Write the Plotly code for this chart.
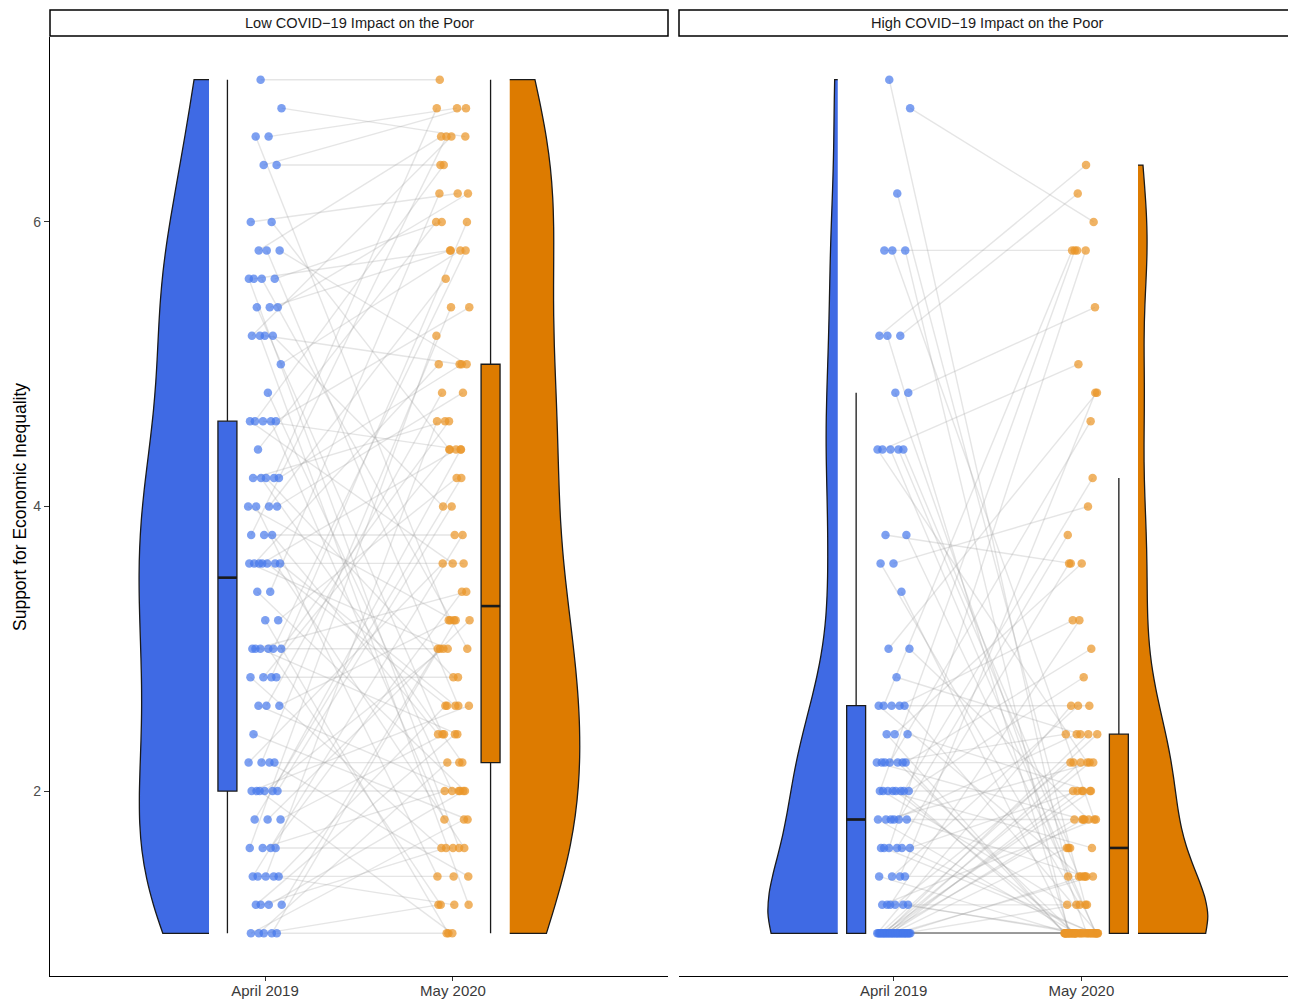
import numpy as np
import plotly.graph_objects as go

# ---------------- data ----------------
panel_titles = ["Low COVID\u221219 Impact on the Poor", "High COVID\u221219 Impact on the Poor"]
waves = ["April 2019", "May 2020"]
y_ticks = [2, 4, 6]

# paired responses (same index = same participant)
low_april = [7.0, 6.8, 6.6, 6.6, 6.4, 6.4, 6.0, 6.0, 5.8, 5.8,
             5.8, 5.6, 5.6, 5.6, 5.6, 5.4, 5.4, 5.4, 5.2, 5.2,
             5.2, 5.2, 5.0, 4.8, 4.6, 4.6, 4.6, 4.6, 4.6, 4.4,
             4.2, 4.2, 4.2, 4.2, 4.2, 4.0, 4.0, 4.0, 4.0, 3.8,
             3.8, 3.8, 3.6, 3.6, 3.6, 3.6, 3.6, 3.6, 3.6, 3.4,
             3.4, 3.2, 3.2, 3.0, 3.0, 3.0, 3.0, 3.0, 3.0, 2.8,
             2.8, 2.8, 2.8, 2.6, 2.6, 2.6, 2.4, 2.2, 2.2, 2.2,
             2.2, 2.0, 2.0, 2.0, 2.0, 2.0, 2.0, 1.8, 1.8, 1.8,
             1.6, 1.6, 1.6, 1.6, 1.4, 1.4, 1.4, 1.4, 1.4, 1.2,
             1.2, 1.2, 1.2, 1.0, 1.0, 1.0, 1.0, 1.0]
low_may = [7.0, 6.6, 6.8, 3.2, 6.4, 6.8, 6.2, 4.4, 6.6, 5.0,
           2.6, 5.8, 6.0, 3.0, 1.6, 5.8, 2.4, 6.2, 5.0, 6.6,
           4.0, 1.2, 5.8, 2.0, 6.4, 5.4, 4.4, 3.6, 1.8, 6.0,
           5.0, 2.8, 4.6, 6.8, 2.2, 3.2, 5.6, 1.4, 4.8, 3.8,
           6.6, 2.4, 3.6, 2.6, 2.6, 5.0, 1.6, 4.4, 3.0, 6.2,
           2.0, 4.2, 1.0, 3.0, 5.8, 2.4, 4.6, 1.2, 3.4, 2.8,
           4.4, 1.6, 6.0, 2.0, 3.2, 4.8, 1.8, 2.2, 5.4, 3.6,
           1.4, 2.0, 4.0, 3.0, 2.6, 4.4, 1.0, 2.4, 3.2, 4.2,
           1.6, 2.0, 5.2, 3.4, 1.4, 2.6, 4.6, 3.8, 1.2, 1.6,
           3.0, 2.0, 2.4, 1.0, 1.2, 1.8, 3.2, 2.2]

high_april = [7.0, 6.8, 6.2, 5.8, 5.8, 5.8, 5.2, 5.2, 5.2, 4.8,
              4.8, 4.4, 4.4, 4.4, 4.4, 4.4, 3.8, 3.8, 3.6, 3.6,
              3.4, 3.0, 3.0, 2.8, 2.6, 2.6, 2.6, 2.6, 2.6, 2.4,
              2.4, 2.4, 2.2, 2.2, 2.2, 2.2, 2.2, 2.2, 2.2, 2.0,
              2.0, 2.0, 2.0, 2.0, 2.0, 2.0, 2.0, 1.8, 1.8, 1.8,
              1.8, 1.8, 1.8, 1.6, 1.6, 1.6, 1.6, 1.6, 1.6, 1.4,
              1.4, 1.4, 1.4, 1.2, 1.2, 1.2, 1.2, 1.2, 1.2, 1.0,
              1.0, 1.0, 1.0, 1.0, 1.0, 1.0, 1.0, 1.0, 1.0, 1.0,
              1.0, 1.0, 1.0, 1.0, 1.0, 1.0, 1.0, 1.0, 1.0, 1.0,
              1.0, 1.0, 1.0, 1.0, 1.0, 1.0, 1.0, 1.0, 1.0, 1.0,
              1.0, 1.0, 1.0]
high_may = [1.4, 6.0, 1.2, 5.8, 1.0, 1.8, 6.4, 6.2, 1.0, 5.4,
            1.0, 5.0, 1.6, 1.0, 2.2, 1.4, 3.6, 1.0, 4.0, 1.2,
            1.0, 4.8, 1.8, 2.4, 5.8, 1.0, 2.6, 1.4, 3.2, 1.0,
            2.0, 3.6, 2.2, 1.0, 4.6, 1.8, 1.0, 2.4, 3.0, 2.0,
            5.8, 1.0, 1.6, 2.8, 1.0, 1.2, 4.2, 1.8, 1.0, 3.8,
            2.2, 1.4, 2.4, 1.6, 1.0, 5.8, 2.0, 3.6, 1.0, 1.4,
            2.6, 1.0, 4.8, 1.2, 1.0, 2.2, 1.8, 1.0, 3.2, 2.6,
            1.0, 2.4, 1.0, 1.0, 2.4, 1.0, 2.2, 1.0, 1.0, 2.2,
            1.0, 2.0, 1.0, 1.0, 2.0, 1.0, 1.0, 2.0, 1.0, 1.8,
            1.0, 1.0, 1.8, 1.0, 1.6, 1.0, 1.4, 1.0, 1.0, 1.4,
            1.0, 1.2, 1.0]

# ---------------- styling ----------------
BLUE = "rgb(63,106,228)"
ORANGE = "rgb(221,123,0)"
BLUE_PT = "rgba(70,120,235,0.70)"
ORANGE_PT = "rgba(234,150,40,0.72)"
LINE_COL = "rgba(150,150,150,0.25)"
EDGE = "#1a1a1a"

# the page body adds an 8px offset; lay out in page pixels and convert
OFF = 8
W, H = 1296 - OFF, 1000 - OFF
PAGE_L, PAGE_R, PAGE_T, PAGE_B = 50, 1296, 10, 976
ML = PAGE_L - OFF
MR = (1296 - OFF) - (PAGE_R - OFF)
MT = PAGE_T - OFF
MB = H - (PAGE_B - OFF)
PW, PH = W - ML - MR, H - MT - MB


def px_x(px):
    return (px - PAGE_L) / PW


def px_y(py):
    return (PAGE_B - py) / PH


def nrd0(v):
    v = np.asarray(v, float)
    sd = v.std(ddof=1)
    q1, q3 = np.percentile(v, [25, 75])
    lo = min(sd, (q3 - q1) / 1.34)
    return 0.9 * lo * len(v) ** -0.2


def box_stats(v):
    v = np.asarray(v, float)
    q1, med, q3 = np.percentile(v, [25, 50, 75])
    iqr = q3 - q1
    lo = v[v >= q1 - 1.5 * iqr].min()
    hi = v[v <= q3 + 1.5 * iqr].max()
    return q1, med, q3, lo, hi


def jitter(n, mult, phase, half=0.09):
    k = np.arange(n)
    return ((k * mult + phase) % 1.0 - 0.5) * 2 * half


fig = go.Figure()

panels = [(low_april, low_may, "x"), (high_april, high_may, "x2")]
for (apr, may, xa) in panels:
    apr = np.asarray(apr, float)
    may = np.asarray(may, float)
    n = len(apr)
    xa_pts = 1 + jitter(n, 0.6180339887, 0.37)
    xm_pts = 2 + jitter(n, 0.7548776662, 0.11)

    # connecting lines
    lx, ly = [], []
    for i in range(n):
        lx += [xa_pts[i], xm_pts[i], None]
        ly += [apr[i], may[i], None]
    fig.add_trace(go.Scatter(x=lx, y=ly, mode="lines", xaxis=xa, yaxis="y",
                             line=dict(color=LINE_COL, width=1.4),
                             hoverinfo="skip", showlegend=False))
    # points
    fig.add_trace(go.Scatter(x=xa_pts, y=apr, mode="markers", xaxis=xa, yaxis="y",
                             marker=dict(color=BLUE_PT, size=8.5, line=dict(width=0)),
                             hoverinfo="skip", showlegend=False))
    fig.add_trace(go.Scatter(x=xm_pts, y=may, mode="markers", xaxis=xa, yaxis="y",
                             marker=dict(color=ORANGE_PT, size=8.5, line=dict(width=0)),
                             hoverinfo="skip", showlegend=False))

    # half violins
    for vals, pos, side, col in [(apr, 0.702, "negative", BLUE), (may, 2.302, "positive", ORANGE)]:
        fig.add_trace(go.Violin(y=vals, x0=pos, side=side, width=0.744, spanmode="hard",
                                bandwidth=nrd0(vals), scalemode="width",
                                fillcolor=col, line=dict(color=EDGE, width=1.3),
                                points=False, box_visible=False, meanline_visible=False,
                                xaxis=xa, yaxis="y", hoverinfo="skip", showlegend=False,
                                opacity=1))

    # boxes
    for vals, pos, col in [(apr, 0.80, BLUE), (may, 2.20, ORANGE)]:
        q1, med, q3, lo, hi = box_stats(vals)
        fig.add_trace(go.Box(x=[pos], q1=[q1], median=[med], q3=[q3],
                             lowerfence=[lo], upperfence=[hi], orientation="v",
                             width=0.101, whiskerwidth=0, boxpoints=False,
                             fillcolor=col, line=dict(color=EDGE, width=1.3),
                             xaxis=xa, yaxis="y", hoverinfo="skip", showlegend=False))
        fig.add_trace(go.Scatter(x=[pos - 0.0505, pos + 0.0505], y=[med, med], mode="lines",
                                 line=dict(color=EDGE, width=2.6), xaxis=xa, yaxis="y",
                                 hoverinfo="skip", showlegend=False))

x_common = dict(range=[-0.144, 3.144], tickmode="array", tickvals=[1, 2], ticktext=waves,
                showline=True, linecolor="black", linewidth=1.3, ticks="outside",
                ticklen=4, tickwidth=1.2, tickcolor="#333333",
                tickfont=dict(size=15, color="#3a3a3a"), ticklabelstandoff=-3,
                showgrid=False, zeroline=False, anchor="y", automargin=False)

fig.update_layout(
    width=W, height=H,
    margin=dict(l=ML, r=MR, t=MT, b=MB),
    plot_bgcolor="white", paper_bgcolor="white",
    violinmode="overlay", boxmode="overlay", showlegend=False,
    font=dict(family="Liberation Sans, Arial, Helvetica, sans-serif", color="#1a1a1a"),
    xaxis=dict(domain=[0, px_x(668)], **x_common),
    xaxis2=dict(domain=[px_x(679), 1.0], **x_common),
    yaxis=dict(domain=[0, px_y(37)], range=[0.7, 7.3], tickmode="array", tickvals=y_ticks,
               showline=True, linecolor="black", linewidth=1.3, ticks="outside",
               ticklen=5, tickwidth=1.2, tickcolor="#333333",
               tickfont=dict(size=14, color="#4d4d4d"),
               showgrid=False, zeroline=False, anchor="x", automargin=False),
)

# facet strips
strips = [(50, 1296 - 0.0), (679, 1296)]
strips[0] = (50, 668)
for (x0, x1), title in zip(strips, panel_titles):
    fig.add_shape(type="rect", xref="paper", yref="paper",
                  x0=px_x(x0), x1=px_x(x1), y0=px_y(36), y1=px_y(10),
                  line=dict(color="black", width=1.5), fillcolor="white", layer="above")
    fig.add_annotation(xref="paper", yref="paper", x=px_x((x0 + x1) / 2), y=px_y(23),
                       text=title, showarrow=False, xanchor="center", yanchor="middle",
                       font=dict(size=14.6, color="#1a1a1a"))

# y-axis title
fig.add_annotation(xref="paper", yref="paper", x=px_x(20), y=px_y(507),
                   text="Support for Economic Inequality", textangle=-90, showarrow=False,
                   xanchor="center", yanchor="middle", font=dict(size=17.5, color="#000000"))

fig.write_html("out.html",
               post_script="document.documentElement.style.overflow='hidden';"
                           "document.body.style.overflow='hidden';")
